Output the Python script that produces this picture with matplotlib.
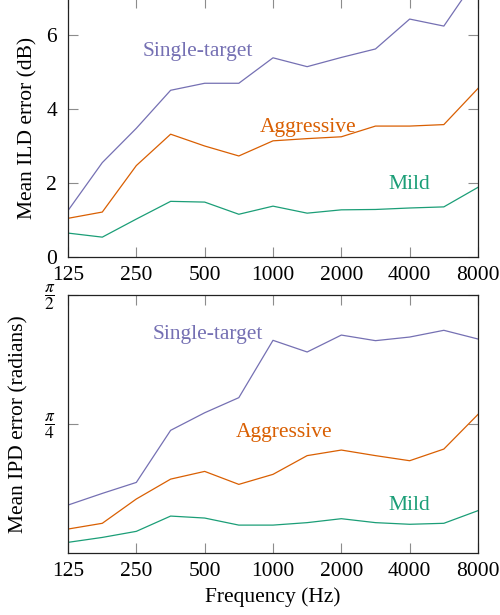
import numpy as np
import matplotlib
matplotlib.use("Agg")
import matplotlib.pyplot as plt
from matplotlib.transforms import ScaledTranslation

plt.rcParams['font.family'] = ['Liberation Serif', 'DejaVu Serif']
plt.rcParams['mathtext.fontset'] = 'stix'

# frecuencias (medias octavas)
freqs = [125, 177, 250, 354, 500, 707, 1000, 1414, 2000, 2828, 4000, 5657, 8000]
xtick_vals = [125, 250, 500, 1000, 2000, 4000, 8000]
xtick_labels = ['125', '250', '500', '1000', '2000', '4000', '8000']

# error ILD (dB)
ild_single = [1.25, 2.55, 3.48, 4.51, 4.70, 4.70, 5.39, 5.15, 5.40, 5.63, 6.44, 6.25, 7.60]
ild_aggr = [1.04, 1.21, 2.47, 3.32, 3.00, 2.73, 3.14, 3.20, 3.25, 3.54, 3.54, 3.58, 4.56]
ild_mild = [0.64, 0.53, 1.02, 1.50, 1.48, 1.15, 1.37, 1.18, 1.27, 1.28, 1.32, 1.35, 1.88]

# error IPD (radianes)
ipd_single = [0.290, 0.361, 0.428, 0.745, 0.852, 0.944, 1.293, 1.222, 1.325, 1.291, 1.313, 1.354, 1.301]
ipd_aggr = [0.144, 0.179, 0.327, 0.448, 0.495, 0.416, 0.477, 0.591, 0.625, 0.591, 0.560, 0.631, 0.842]
ipd_mild = [0.063, 0.093, 0.130, 0.223, 0.211, 0.168, 0.168, 0.183, 0.207, 0.183, 0.173, 0.179, 0.256]

c_single = '#7570b3'
c_aggr = '#d95f02'
c_mild = '#1b9e77'
fs = 15.5

fig = plt.figure(figsize=(5, 6.15), dpi=100)
W, H = 500, 615

# ejes de arriba: el borde superior queda justo fuera de la imagen
ax1 = fig.add_axes([68 / W, (H - 256.7) / H, 410 / W, 258.3 / H])
ax2 = fig.add_axes([68 / W, (H - 552.7) / H, 410 / W, 258 / H])


def estilo(ax):
    ax.set_xscale('log')
    ax.set_xlim(125, 8000)
    ax.set_xticks(xtick_vals)
    ax.set_xticklabels(xtick_labels)
    ax.minorticks_off()
    ax.tick_params(direction='in', length=7.5, width=0.8, color='#8c8c8c',
                   top=True, right=True, labelsize=fs)
    ax.tick_params(axis='x', pad=7)
    ax.tick_params(axis='y', pad=8)
    for s in ax.spines.values():
        s.set_linewidth(0.9)
        s.set_color('#222222')


ax1.plot(freqs, ild_single, color=c_single, lw=0.9)
ax1.plot(freqs, ild_aggr, color=c_aggr, lw=0.9)
ax1.plot(freqs, ild_mild, color=c_mild, lw=0.9)
estilo(ax1)
ax1.set_ylim(0, 7)
ax1.set_yticks([0, 2, 4, 6])
ax1.set_ylabel('Mean ILD error (dB)', fontsize=fs, labelpad=6)
ax1.text(467, 5.55, 'Single-target', color=c_single, fontsize=fs, ha='center', va='center')
ax1.text(1425, 3.51, 'Aggressive', color=c_aggr, fontsize=fs, ha='center', va='center')
ax1.text(4000, 1.97, 'Mild', color=c_mild, fontsize=fs, ha='center', va='center')

ax2.plot(freqs, ipd_single, color=c_single, lw=0.9)
ax2.plot(freqs, ipd_aggr, color=c_aggr, lw=0.9)
ax2.plot(freqs, ipd_mild, color=c_mild, lw=0.9)
estilo(ax2)
ax2.set_ylim(0, np.pi / 2)
ax2.set_yticks([np.pi / 4, np.pi / 2])
ax2.set_yticklabels([r'$\dfrac{\pi}{4}$', r'$\dfrac{\pi}{2}$'])
ax2.tick_params(axis='y', pad=9, labelsize=12.5)
# la raya de la fraccion queda un poco por encima de la marca
subir = ScaledTranslation(0, 3 / 72, fig.dpi_scale_trans)
for lbl in ax2.get_yticklabels():
    lbl.set_transform(lbl.get_transform() + subir)
ax2.set_ylabel('Mean IPD error (radians)', fontsize=fs, labelpad=11)
ax2.set_xlabel('Frequency (Hz)', fontsize=fs, labelpad=4)
ax2.text(518, 1.326, 'Single-target', color=c_single, fontsize=fs, ha='center', va='center')
ax2.text(1118, 0.729, 'Aggressive', color=c_aggr, fontsize=fs, ha='center', va='center')
ax2.text(4000, 0.290, 'Mild', color=c_mild, fontsize=fs, ha='center', va='center')

fig.savefig('out.png', dpi=100)
